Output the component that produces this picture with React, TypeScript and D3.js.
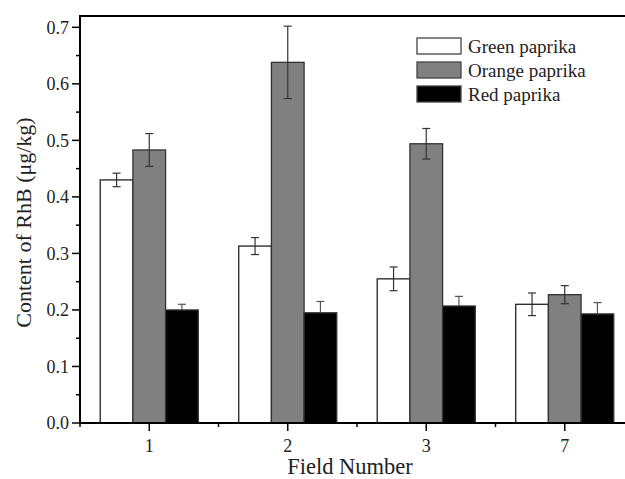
import React from "react";
import * as d3 from "d3";

const categories = ["1", "2", "3", "7"];
const seriesNames = ["Green paprika", "Orange paprika", "Red paprika"];
const greenValues = [0.43, 0.313, 0.255, 0.21];
const greenErrors = [0.012, 0.015, 0.021, 0.02];
const orangeValues = [0.483, 0.638, 0.494, 0.227];
const orangeErrors = [0.029, 0.064, 0.027, 0.016];
const redValues = [0.2, 0.195, 0.207, 0.193];
const redErrors = [0.01, 0.02, 0.017, 0.02];
const yTicks = [0, 0.1, 0.2, 0.3, 0.4, 0.5, 0.6, 0.7];

const fills = ["#ffffff", "#808080", "#000000"];

export default function App() {
  const W = 625, H = 479;
  const left = 80, top = 16, bottom = 423, right = 634;
  const x = d3.scaleLinear().domain([0.5, categories.length + 0.5]).range([left, right]);
  const y = d3.scaleLinear().domain([0, 0.72]).range([bottom, top]);
  const bw = (x(2) - x(1)) * 0.236;
  const series = [
    { v: greenValues, e: greenErrors },
    { v: orangeValues, e: orangeErrors },
    { v: redValues, e: redErrors },
  ];
  const font = "'Liberation Serif', 'Times New Roman', serif";
  const minorY = d3.range(0.05, 0.72, 0.1);
  const minorX = d3.range(0, categories.length + 1).map((i) => i + 0.5);

  return (
    <svg width={W} height={H} style={{ position: "absolute", left: 0, top: 0, background: "#fff" }} fontFamily={font}>
      {categories.map((c, i) =>
        series.map((s, k) => {
          const cx = x(i + 1) + (k - 1) * bw;
          const x0 = cx - bw / 2;
          return (
            <rect key={c + k} x={x0} y={y(s.v[i])} width={bw} height={y(0) - y(s.v[i])}
              fill={fills[k]} stroke={k === 0 ? "#222" : "#333"} strokeWidth={1.3} />
          );
        })
      )}
      {categories.map((c, i) =>
        series.map((s, k) => {
          const cx = x(i + 1) + (k - 1) * bw;
          const yt = y(s.v[i] + s.e[i]);
          const yb = y(s.v[i] - s.e[i]);
          const col = k === 2 ? "#555" : "#333";
          return (
            <g key={"e" + c + k} stroke={col} strokeWidth={1.2}>
              <line x1={cx} x2={cx} y1={yt} y2={k === 2 ? y(s.v[i]) : yb} />
              <line x1={cx - 4} x2={cx + 4} y1={yt} y2={yt} />
              {k !== 2 && <line x1={cx - 4} x2={cx + 4} y1={yb} y2={yb} />}
            </g>
          );
        })
      )}
      <line x1={left} x2={right} y1={top} y2={top} stroke="#000" strokeWidth={2} />
      <line x1={left} x2={left} y1={top - 1} y2={bottom + 1} stroke="#000" strokeWidth={2} />
      <line x1={left - 1} x2={right} y1={bottom} y2={bottom} stroke="#000" strokeWidth={2} />
      {yTicks.map((t) => (
        <g key={"y" + t}>
          <line x1={left - 8} x2={left} y1={y(t)} y2={y(t)} stroke="#000" strokeWidth={1.5} />
          <text x={left - 11} y={y(t)} dy="0.35em" textAnchor="end" fontSize={18} fill="#222">
            {t.toFixed(1)}
          </text>
        </g>
      ))}
      {minorY.map((t) => (
        <line key={"my" + t} x1={left - 4} x2={left} y1={y(t)} y2={y(t)} stroke="#000" strokeWidth={1.5} />
      ))}
      {categories.map((c, i) => (
        <g key={"x" + c}>
          <line x1={x(i + 1)} x2={x(i + 1)} y1={bottom} y2={bottom + 8} stroke="#000" strokeWidth={1.5} />
          <text x={x(i + 1)} y={452} textAnchor="middle" fontSize={18} fill="#222">{c}</text>
        </g>
      ))}
      {minorX.map((t) => (
        <line key={"mx" + t} x1={x(t)} x2={x(t)} y1={bottom} y2={bottom + 4} stroke="#000" strokeWidth={1.5} />
      ))}
      <text x={350} y={474} textAnchor="middle" fontSize={22.5} fill="#222">Field Number</text>
      <text transform={`translate(31,${(top + bottom) / 2 + 3}) rotate(-90)`} textAnchor="middle" fontSize={22} fill="#222">
        Content of RhB (μg/kg)
      </text>
      {seriesNames.map((n, k) => (
        <g key={n}>
          <rect x={417} y={38 + k * 24} width={44} height={16} fill={fills[k]} stroke="#444" strokeWidth={1.3} />
          <text x={468} y={46 + k * 24} dy="0.35em" fontSize={19} fill="#222">{n}</text>
        </g>
      ))}
    </svg>
  );
}
